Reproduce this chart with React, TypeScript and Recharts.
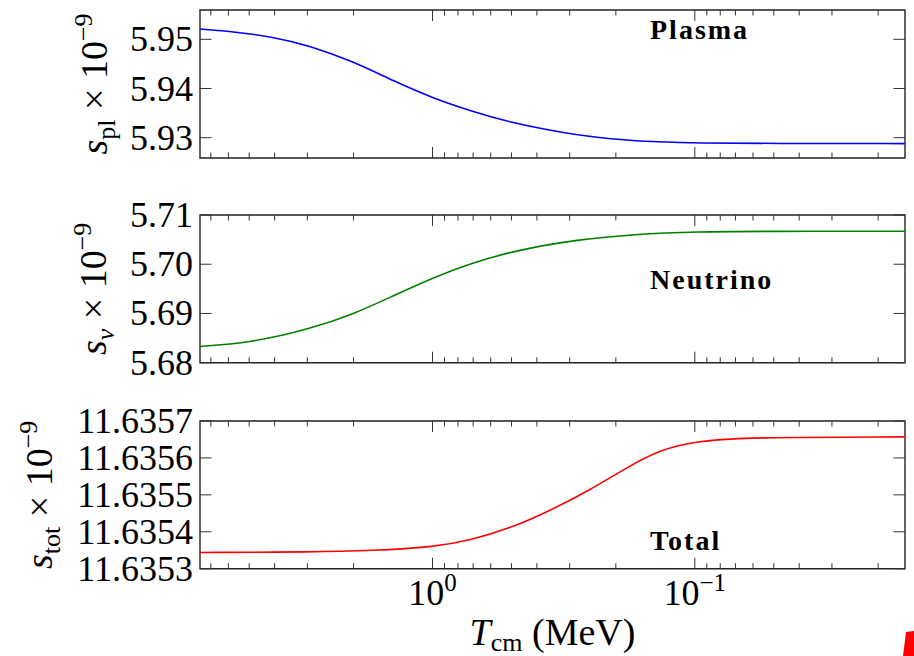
import React from "react";
import { LineChart, Line, XAxis, YAxis, ReferenceArea } from "recharts";

// temperature axis (MeV), log scale, decreasing to the right
const T_MIN = 0.0158;
const T_MAX = 7.7;
const X_MAJOR = [1, 0.1];
const X_MINOR = [7, 6, 5, 4, 3, 2, 0.9, 0.8, 0.7, 0.6, 0.5, 0.4, 0.3, 0.2, 0.09, 0.08, 0.07, 0.06, 0.05, 0.04, 0.03, 0.02];

// plasma entropy (x 1e-9)
const plasmaT = [7.7, 5.67, 4.0, 3.0, 2.0, 1.4, 1.0, 0.71, 0.5, 0.32, 0.21, 0.134, 0.1, 0.05, 0.0158];
const plasmaS = [5.95209, 5.95155, 5.9504, 5.94886, 5.94549, 5.94145, 5.93808, 5.93539, 5.93303, 5.93101, 5.92966, 5.92912, 5.9289, 5.92882, 5.9288];
const plasmaTicks = [5.93, 5.94, 5.95];

// neutrino entropy (x 1e-9)
const nuT = [7.7, 4.89, 2.95, 1.97, 1.41, 1.0, 0.719, 0.465, 0.281, 0.169, 0.1, 0.05, 0.0158];
const nuS = [5.6833, 5.6841, 5.6868, 5.69, 5.6936, 5.6972, 5.7002, 5.703, 5.705, 5.7061, 5.7066, 5.7067, 5.7067];
const nuTicks = [5.68, 5.69, 5.7, 5.71];

// total entropy (x 1e-9)
const totT = [7.7, 2.84, 1.69, 1.0, 0.71, 0.502, 0.355, 0.251, 0.178, 0.135, 0.1, 0.063, 0.0158];
const totS = [11.635344, 11.635345, 11.635349, 11.635358, 11.635378, 11.63541, 11.635458, 11.635513, 11.635578, 11.635622, 11.635645, 11.635656, 11.635657];
const totTicks = [11.6353, 11.6354, 11.6355, 11.6356, 11.6357];

const W = 914;
const H = 656;
const PLOT_LEFT = 200;
const PLOT_RIGHT = 905;
const FONT = "'Liberation Serif', 'Times New Roman', serif";

const toRows = (ts: number[], ss: number[]) => ts.map((t, i) => ({ T: t, s: ss[i] }));

function XTick(props: any) {
  const { x, payload, top, bottom, showLabels } = props;
  const v = payload.value;
  const major = X_MAJOR.includes(v);
  const len = major ? 11 : 5.5;
  const exp = Math.round(Math.log10(v));
  return (
    <g>
      <line x1={x} x2={x} y1={bottom} y2={bottom - len} stroke="#333" strokeWidth={1} />
      <line x1={x} x2={x} y1={top} y2={top + len} stroke="#333" strokeWidth={1} />
      {showLabels && major && (
        <text x={x} y={bottom + 36} textAnchor="middle" fontFamily={FONT} fontSize={36} fill="#000">
          10
          <tspan dy={-14} fontSize={25}>{exp < 0 ? "\u2212" + Math.abs(exp) : String(exp)}</tspan>
        </text>
      )}
    </g>
  );
}

function YTick(props: any) {
  const { y, payload, digits } = props;
  return (
    <g>
      <line x1={PLOT_LEFT} x2={PLOT_LEFT + 11.5} y1={y} y2={y} stroke="#333" strokeWidth={1} />
      <line x1={PLOT_RIGHT} x2={PLOT_RIGHT - 11.5} y1={y} y2={y} stroke="#333" strokeWidth={1} />
      <text x={PLOT_LEFT - 7} y={y + 12} textAnchor="end" fontFamily={FONT} fontSize={36} fill="#000">
        {payload.value.toFixed(digits)}
      </text>
    </g>
  );
}

function YLabel(props: any) {
  const { bx, cy, sub, greek } = props;
  return (
    <text
      x={bx}
      y={cy}
      transform={`rotate(-90, ${bx}, ${cy})`}
      textAnchor="middle"
      fontFamily={FONT}
      fontSize={38}
      fill="#000"
    >
      <tspan fontStyle="italic">s</tspan>
      <tspan fontSize={26} dy={8} fontStyle={greek ? "italic" : "normal"}>{sub}</tspan>
      <tspan dy={-8}>{" \u00d7 10"}</tspan>
      <tspan fontSize={26} dy={-15}>{"\u22129"}</tspan>
    </text>
  );
}

function XLabel() {
  return (
    <text x={(PLOT_LEFT + PLOT_RIGHT) / 2} y={645} textAnchor="middle" fontFamily={FONT} fontSize={38} fill="#000">
      <tspan fontStyle="italic">T</tspan>
      <tspan fontSize={26} dy={6}>cm</tspan>
      <tspan dy={-6}>{" (MeV)"}</tspan>
    </text>
  );
}

interface PanelProps {
  rows: { T: number; s: number }[];
  top: number;
  bottom: number;
  domain: [number, number];
  ticks: number[];
  digits: number;
  color: string;
  sub: string;
  greek?: boolean;
  labelX: number;
  showX?: boolean;
}

function Panel({ rows, top, bottom, domain, ticks, digits, color, sub, greek, labelX, showX }: PanelProps) {
  return (
    <div style={{ position: "absolute", left: 0, top: 0 }}>
      <LineChart width={W} height={H} data={rows} margin={{ top, right: W - PLOT_RIGHT, bottom: 0, left: 0 }}>
        <XAxis
          dataKey="T"
          type="number"
          scale="log"
          domain={[T_MIN, T_MAX]}
          reversed
          allowDataOverflow
          ticks={[...X_MAJOR, ...X_MINOR]}
          interval={0}
          height={H - bottom}
          tickSize={0}
          tickMargin={0}
          tickLine={false}
          axisLine={false}
          tick={<XTick top={top} bottom={bottom} showLabels={showX} />}
          label={showX ? { content: () => <XLabel /> } : undefined}
        />
        <YAxis
          type="number"
          domain={domain}
          allowDataOverflow
          ticks={ticks}
          interval={0}
          width={PLOT_LEFT}
          tickSize={0}
          tickMargin={0}
          tickLine={false}
          axisLine={false}
          tick={<YTick digits={digits} />}
          label={{ content: () => <YLabel bx={labelX} cy={(top + bottom) / 2} sub={sub} greek={greek} /> }}
        />
        <ReferenceArea
          x1={T_MIN}
          x2={T_MAX}
          y1={domain[0]}
          y2={domain[1]}
          fill="none"
          stroke="#222"
          strokeWidth={1.4}
          ifOverflow="visible"
        />
        <Line
          dataKey="s"
          type="basis"
          stroke={color}
          strokeWidth={1.6}
          dot={false}
          isAnimationActive={false}
        />
      </LineChart>
    </div>
  );
}

export default function App() {
  const title = { fontFamily: FONT, fontSize: 28, fontWeight: 700, letterSpacing: 2 } as const;
  return (
    <div style={{ position: "absolute", left: 0, top: 0, width: W, height: H, background: "#fff" }}>
      <Panel
        rows={toRows(plasmaT, plasmaS)}
        top={10}
        bottom={158}
        domain={[5.92587, 5.95596]}
        ticks={plasmaTicks}
        digits={2}
        color="#0000ff"
        sub="pl"
        labelX={107}
      />
      <Panel
        rows={toRows(nuT, nuS)}
        top={215}
        bottom={362.7}
        domain={[5.68, 5.71]}
        ticks={nuTicks}
        digits={2}
        color="#008000"
        sub={"\u03bd"}
        greek
        labelX={106}
      />
      <Panel
        rows={toRows(totT, totS)}
        top={421}
        bottom={568.7}
        domain={[11.6353, 11.6357]}
        ticks={totTicks}
        digits={4}
        color="#ff0000"
        sub="tot"
        labelX={52}
        showX
      />
      <svg width={W} height={H} style={{ position: "absolute", left: 0, top: 0, pointerEvents: "none" }}>
        <text x={650} y={39} {...title}>Plasma</text>
        <text x={650} y={289} {...title}>Neutrino</text>
        <text x={650} y={550} {...title}>Total</text>
        <polygon points="906,632 914,631 914,656 903,656" fill="#ff0000" />
      </svg>
    </div>
  );
}
